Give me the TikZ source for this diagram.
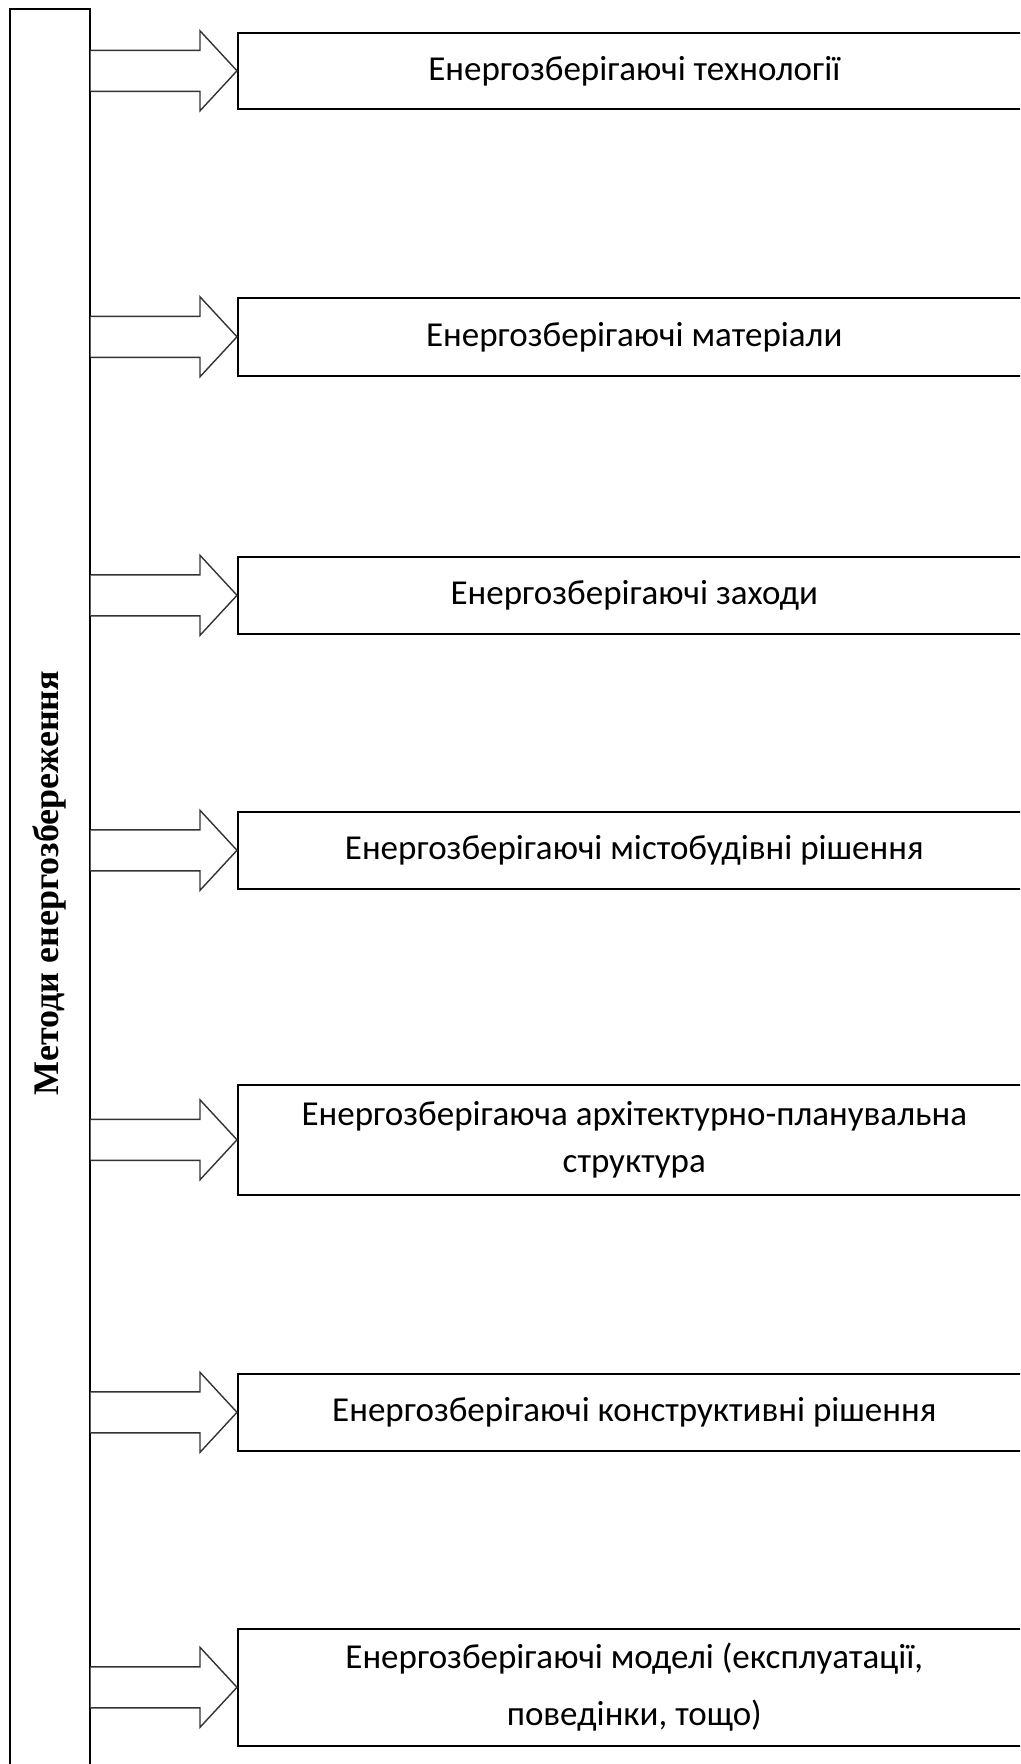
\documentclass[tikz,border=0pt]{standalone}
\usepackage{fontspec}
\setmainfont{Carlito}
\newfontfamily\titlefont{Liberation Serif}
\usetikzlibrary{positioning, calc}

\begin{document}
\begin{tikzpicture}[
  x=1pt, y=-1pt,
  every node/.style={font=\fontsize{35}{47}\selectfont},
  itembox/.style={draw, line width=1.6pt, anchor=north west,
               minimum width=793pt, align=center, inner sep=0pt},
  fatarrow/.style={draw=black!80, line width=1.4pt, fill=white, line join=miter}
]
\useasboundingbox (0,0) rectangle (1020,1764);
\clip (0,0) rectangle (1020,1764);

% ---- Left column ----
\node[draw, line width=1.6pt, anchor=north west, minimum width=80pt,
      minimum height=1800pt, inner sep=0pt] (col) at (9,8) {};
\node[rotate=90, font=\titlefont\bfseries\fontsize{36}{40}\selectfont]
  (title) at (49,883) {Методи енергозбереження};

% ---- Boxes ----
\node[itembox, minimum height=76pt] (tech) at (237,32)
  {Енергозберігаючі технології};
\node[itembox, minimum height=78pt] (mat) at (237,297)
  {Енергозберігаючі матеріали};
\node[itembox, minimum height=77pt] (meas) at (237,556)
  {Енергозберігаючі заходи};
\node[itembox, minimum height=77pt] (urban) at (237,811)
  {Енергозберігаючі містобудівні рішення};
\node[itembox, minimum height=110pt] (arch) at (237,1084)
  {Енергозберігаюча архітектурно-планувальна\\структура};
\node[itembox, minimum height=77pt] (constr) at (237,1373)
  {Енергозберігаючі конструктивні рішення};
\node[itembox, minimum height=117pt] (model) at (237,1628)
  {Енергозберігаючі моделі (експлуатації,\\[10pt]поведінки, тощо)};

% ---- Arrows ----
\foreach \bx in {tech, mat, meas, urban, arch, constr, model}
  \draw[fatarrow] ($(col.east |- \bx.west)+(0,-20.5)$)
    -- ($(\bx.west)+(-37,-20.5)$) -- ($(\bx.west)+(-37,-40)$)
    -- (\bx.west) -- ($(\bx.west)+(-37,40)$)
    -- ($(\bx.west)+(-37,20.5)$) -- ($(col.east |- \bx.west)+(0,20.5)$);

\end{tikzpicture}
\end{document}
